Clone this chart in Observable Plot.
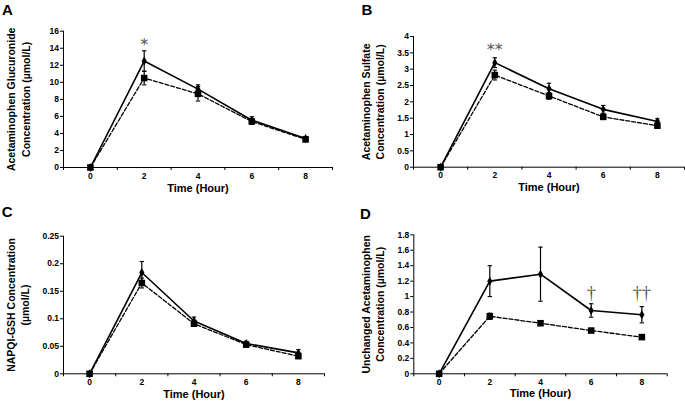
<!DOCTYPE html>
<html><head><meta charset="utf-8">
<script src="https://cdn.jsdelivr.net/npm/d3@7"></script>
<script src="https://cdn.jsdelivr.net/npm/@observablehq/plot@0.6"></script>
<style>
body{margin:0;background:#fff;}
#wrap{position:relative;width:685px;height:404px;font-family:"Liberation Sans",Arial,sans-serif;overflow:hidden;}
.panel{position:absolute;}
.letter{position:absolute;font-weight:bold;font-size:15px;line-height:1;color:#000;}
</style></head><body><div id="wrap"></div>
<script>
// shared
const hours = [0, 2, 4, 6, 8];
const xTickMarks = [-1, 1, 3, 5, 7, 9];
const xTitle = "Time (Hour)";

// Panel A: Acetaminophen Glucuronide
const aTicks = [0, 2, 4, 6, 8, 10, 12, 14, 16];
const aSolid = [0, 12.5, 9.2, 5.55, 3.4];
const aSolidErr = [0, 1.2, 0.5, 0.4, 0.2];
const aDashed = [0, 10.5, 8.65, 5.4, 3.3];
const aDashedErr = [0, 0.8, 0.85, 0.3, 0.2];
const aNotes = [{t: 2, v: 14.9, s: "*"}];
const aLabel = "Acetaminophen Glucuronide\nConcentration (µmol/L)";

// Panel B: Acetaminophen Sulfate
const bTicks = [0, 0.5, 1, 1.5, 2, 2.5, 3, 3.5, 4];
const bSolid = [0, 3.2, 2.4, 1.77, 1.4];
const bSolidErr = [0, 0.15, 0.17, 0.12, 0.08];
const bDashed = [0, 2.82, 2.18, 1.54, 1.27];
const bDashedErr = [0, 0.15, 0.1, 0.08, 0.08];
const bNotes = [{t: 2, v: 3.74, s: "**"}];
const bLabel = "Acetaminophen Sulfate\nConcentration (µmol/L)";

// Panel C: NAPQI-GSH
const cTicks = [0, 0.05, 0.1, 0.15, 0.2, 0.25];
const cSolid = [0, 0.184, 0.096, 0.055, 0.038];
const cSolidErr = [0, 0.02, 0.007, 0.004, 0.006];
const cDashed = [0, 0.165, 0.091, 0.053, 0.032];
const cDashedErr = [0, 0.009, 0.005, 0.004, 0.004];
const cNotes = [];
const cLabel = "NAPQI-GSH Concentration\n(µmol/L)";

// Panel D: Unchanged Acetaminophen
const dTicks = [0, 0.2, 0.4, 0.6, 0.8, 1, 1.2, 1.4, 1.6, 1.8];
const dSolid = [0, 1.2, 1.29, 0.82, 0.765];
const dSolidErr = [0, 0.2, 0.35, 0.087, 0.105];
const dDashed = [0, 0.745, 0.655, 0.56, 0.475];
const dDashedErr = [0, 0.04, 0.03, 0.02, 0.03];
const dNotes = [{t: 6, v: 1.057, s: "†"}, {t: 8, v: 1.057, s: "††"}];
const dLabel = "Unchanged Acetaminophen\nConcentration (µmol/L)";

const capSymbol = {draw(ctx) { ctx.moveTo(-2.2, 0); ctx.lineTo(2.2, 0); }};

function rows(vals, errs) { return hours.map((t, i) => ({t, v: vals[i], e: errs[i]})); }

function panel(cfg) {
  const s = rows(cfg.solid, cfg.solidErr);
  const dsh = rows(cfg.dashed, cfg.dashedErr);
  const errs = [...s, ...dsh].filter(d => d.e > 0);
  const p = Plot.plot({
    width: cfg.width, height: cfg.height,
    marginLeft: cfg.m[0], marginRight: cfg.m[1], marginTop: cfg.m[2], marginBottom: cfg.m[3],
    style: {fontFamily: "'Liberation Sans', Arial, sans-serif", fontSize: "8.5px", color: "#000", background: "transparent", overflow: "visible"},
    x: {domain: [-1, 9], label: null},
    y: {domain: [cfg.yTicks[0], cfg.yTicks[cfg.yTicks.length - 1]], label: null},
    marks: [
      Plot.axisY({ticks: cfg.yTicks, tickSize: 3, tickPadding: 1.5, tickFormat: d => String(d), label: null, fontWeight: "bold", strokeWidth: 1}),
      Plot.axisX({ticks: xTickMarks, tickSize: 3, tickFormat: () => "", label: null}),
      Plot.axisX({ticks: hours, tickSize: 0, tickPadding: 5, tickFormat: d => String(d), label: null, fontWeight: "bold"}),
      Plot.ruleX([-1], {stroke: "#000", strokeWidth: 1}),
      Plot.ruleY([cfg.yTicks[0]], {stroke: "#000", strokeWidth: 1}),
      Plot.line(dsh, {x: "t", y: "v", stroke: "#000", strokeWidth: 1.3, strokeDasharray: "4,2"}),
      Plot.line(s, {x: "t", y: "v", stroke: "#000", strokeWidth: 1.6}),
      Plot.ruleX(errs, {x: "t", y1: d => d.v - d.e, y2: d => d.v + d.e, stroke: "#000", strokeWidth: 1.2}),
      Plot.dot(errs, {x: "t", y: d => d.v + d.e, symbol: capSymbol, stroke: "#000", strokeWidth: 1.1, r: 3}),
      Plot.dot(errs, {x: "t", y: d => d.v - d.e, symbol: capSymbol, stroke: "#000", strokeWidth: 1.1, r: 3}),
      Plot.dot(dsh, {x: "t", y: "v", symbol: "square", r: 3.7, fill: "#000", stroke: null}),
      Plot.dot(s, {x: "t", y: "v", symbol: "diamond", r: 2.7, fill: "#000", stroke: null}),
      Plot.text(cfg.notes, {x: "t", y: "v", text: "s", fontSize: cfg.noteSize, fill: "#555", fontFamily: cfg.noteFont, dy: cfg.noteDy}),
      Plot.text([cfg.label], {text: d => d, frameAnchor: "left", textAnchor: "middle", lineAnchor: "middle", rotate: -90, dx: cfg.labelDx, fontSize: 10.5, fontWeight: "bold", lineHeight: 1.35}),
      Plot.text([xTitle], {text: d => d, frameAnchor: "bottom", dy: cfg.xTitleDy, fontSize: 11, fontWeight: "bold"})
    ]
  });
  const div = document.createElement("div");
  div.className = "panel";
  div.style.left = cfg.left + "px";
  div.style.top = cfg.top + "px";
  div.appendChild(p);
  document.getElementById("wrap").appendChild(div);
  const L = document.createElement("div");
  L.className = "letter";
  L.textContent = cfg.letter;
  L.style.left = cfg.letterPos[0] + "px";
  L.style.top = cfg.letterPos[1] + "px";
  document.getElementById("wrap").appendChild(L);
}

const starFont = "'DejaVu Sans', sans-serif";
const daggerFont = "'Liberation Serif', 'DejaVu Serif', serif";

panel({letter: "A", letterPos: [2, 2], left: 0, top: 0, width: 340, height: 200, m: [63, 8, 30.7, 33],
  yTicks: aTicks, solid: aSolid, solidErr: aSolidErr, dashed: aDashed, dashedErr: aDashedErr,
  notes: aNotes, noteSize: 16, noteFont: starFont, noteDy: 4.5,
  label: aLabel, labelDx: -45.5, xTitleDy: 24.5});
panel({letter: "B", letterPos: [361.5, 2], left: 340, top: 0, width: 345, height: 200, m: [73, 1, 36, 33.3],
  yTicks: bTicks, solid: bSolid, solidErr: bSolidErr, dashed: bDashed, dashedErr: bDashedErr,
  notes: bNotes, noteSize: 16, noteFont: starFont, noteDy: 4.5,
  label: bLabel, labelDx: -41.3, xTitleDy: 23.5});
panel({letter: "C", letterPos: [1.7, 204], left: 0, top: 200, width: 340, height: 204, m: [63, 16, 35.7, 30.7],
  yTicks: cTicks, solid: cSolid, solidErr: cSolidErr, dashed: cDashed, dashedErr: cDashedErr,
  notes: cNotes, noteSize: 16, noteFont: starFont, noteDy: 0,
  label: cLabel, labelDx: -46.3, xTitleDy: 23.7});
panel({letter: "D", letterPos: [360, 205.5], left: 340, top: 200, width: 345, height: 204, m: [73.3, 18.3, 34.3, 30.7],
  yTicks: dTicks, solid: dSolid, solidErr: dSolidErr, dashed: dDashed, dashedErr: dDashedErr,
  notes: dNotes, noteSize: 18, noteFont: daggerFont, noteDy: 1,
  label: dLabel, labelDx: -41.3, xTitleDy: 23.4});
</script>
</body></html>
